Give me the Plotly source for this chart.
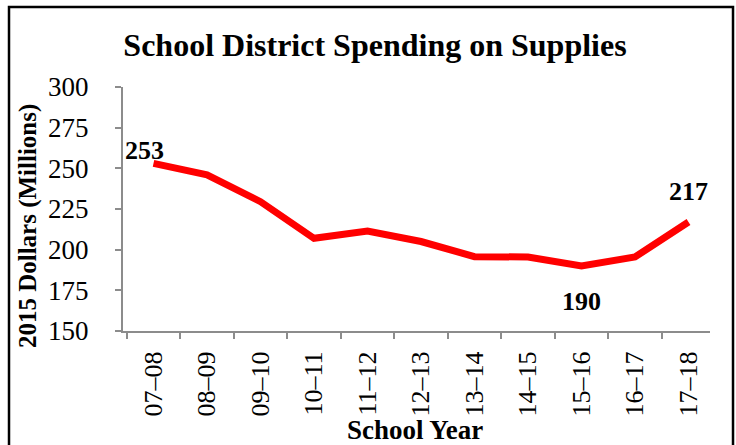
import plotly.graph_objects as go

anos = ["07–08", "08–09", "09–10", "10–11", "11–12", "12–13",
        "13–14", "14–15", "15–16", "16–17", "17–18"]
gastos = [253, 246, 229.5, 207, 211.5, 205, 195.7, 195.5, 190, 195.5, 217]
rotulos = {0: "253", 8: "190", 10: "217"}

FONTE = '"Liberation Serif", "Times New Roman", serif'

fig = go.Figure()
fig.add_trace(go.Scatter(
    x=anos,
    y=gastos,
    mode="lines",
    line=dict(color="#ff0000", width=7),
    hoverinfo="skip",
))

# rótulos de dados (253 acima-esquerda, 190 abaixo, 217 acima)
deslocamentos = {0: (-9, 13), 8: (0, -36), 10: (0, 31)}
for i, txt in rotulos.items():
    dx, dy = deslocamentos[i]
    fig.add_annotation(
        x=anos[i], y=gastos[i], text=f"<b>{txt}</b>",
        showarrow=False, xshift=dx, yshift=dy,
        font=dict(family=FONTE, size=26, color="black"),
    )

# títulos dos eixos como anotações para posicionar igual ao original
fig.add_annotation(
    x=-0.1618, y=0.43, xref="paper", yref="paper",
    text="<b>2015 Dollars (Millions)</b>", textangle=-90,
    showarrow=False, xanchor="center", yanchor="middle",
    font=dict(family=FONTE, size=25, color="black"),
)
fig.add_annotation(
    x=0.4974, y=-0.4057, xref="paper", yref="paper",
    text="<b>School Year</b>",
    showarrow=False, xanchor="center", yanchor="middle",
    font=dict(family=FONTE, size=27, color="black"),
)

# moldura preta em volta do gráfico
fig.add_shape(
    type="rect", xref="paper", yref="paper",
    x0=-0.1942, x1=1.0392, y0=-0.6, y1=1.3279,
    line=dict(color="black", width=2.5),
)

eixo = dict(
    showgrid=False,
    zeroline=False,
    showline=True,
    linecolor="#8c8c8c",
    linewidth=2,
    ticks="outside",
    ticklen=6,
    tickwidth=2,
    tickcolor="#8c8c8c",
)

fig.update_layout(
    width=736,
    height=445,
    margin=dict(l=123, r=26, t=87, b=114),
    paper_bgcolor="white",
    plot_bgcolor="white",
    showlegend=False,
    font=dict(family=FONTE, color="black"),
    title=dict(
        text="<b>School District Spending on Supplies</b>",
        x=0.5095, xanchor="center", y=0.899, yanchor="middle",
        font=dict(family=FONTE, size=32, color="black"),
    ),
    xaxis=dict(
        **eixo,
        type="category",
        tickson="boundaries",
        tickangle=-90,
        ticklabelstandoff=8,
        tickfont=dict(family=FONTE, size=26, color="black"),
    ),
    yaxis=dict(
        **eixo,
        range=[150, 300],
        tickvals=[150, 175, 200, 225, 250, 275, 300],
        ticklabelstandoff=21,
        tickfont=dict(family=FONTE, size=27, color="black"),
    ),
)

# tira a margem padrão do <body> para a figura começar em (0,0)
fig.write_html(
    "out.html",
    config={"displayModeBar": False},
    post_script="document.body.style.margin='0';",
)
